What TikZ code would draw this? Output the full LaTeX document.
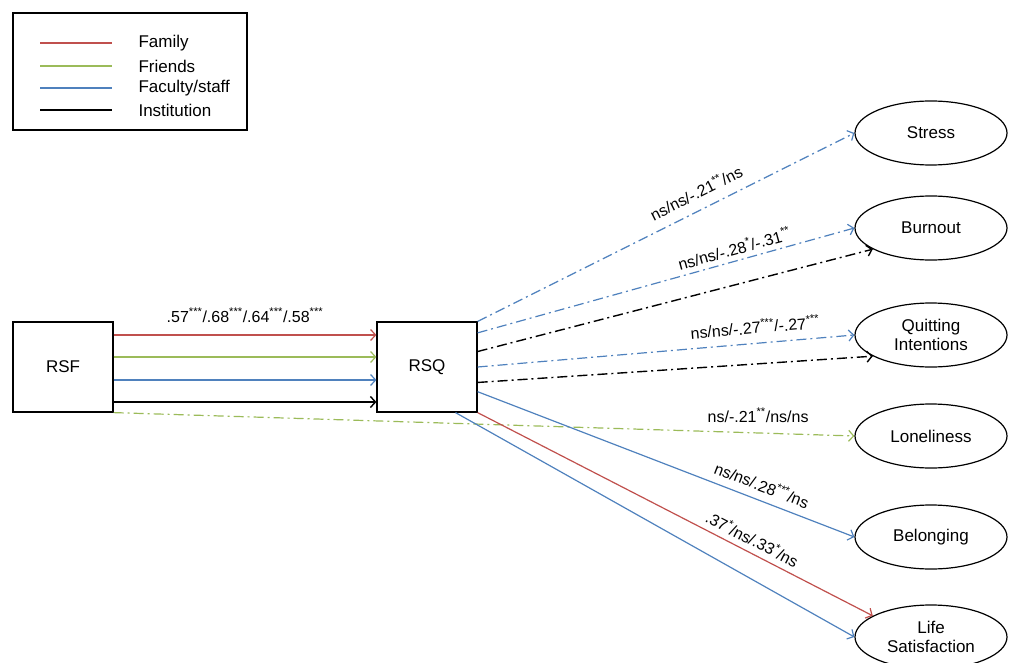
\documentclass[tikz,border=0pt]{standalone}
\usepackage{fontspec}
\setmainfont{Liberation Sans}
\usepackage{xcolor}
\usetikzlibrary{arrows.meta,positioning,shapes.geometric}

\definecolor{famred}{RGB}{192,80,77}
\definecolor{frigreen}{RGB}{155,187,89}
\definecolor{facblue}{RGB}{79,129,189}

\begin{document}
\begin{tikzpicture}[x=1pt,y=-1pt,
  every node/.style={font=\fontsize{17}{19}\selectfont},
  box/.style={draw,line width=1.2pt,minimum width=100pt,minimum height=90pt,inner sep=0pt},
  outc/.style={draw,ellipse,line width=1.2pt,minimum width=152pt,minimum height=64pt,inner sep=0pt,align=center},
  tip/.style={-{Straight Barb[length=5pt,width=11pt]}},
  dashdot/.style={dash pattern=on 10pt off 4pt on 2pt off 4pt},
  fam/.style={famred,line width=1.2pt},
  fri/.style={frigreen,line width=1.2pt},
  fac/.style={facblue,line width=1.2pt},
  ins/.style={black,line width=1.4pt},
  lbl/.style={text=black,font=\fontsize{16}{18}\selectfont,inner sep=1pt}]
  \useasboundingbox (0,0) rectangle (1011,663);

  % legend
  \draw[line width=1.2pt] (13,13) rectangle (247,130);
  \draw[fam] (40,43) -- ++(72,0);
  \draw[fri] (40,66) -- ++(72,0);
  \draw[fac] (40,88) -- ++(72,0);
  \draw[ins] (40,110) -- ++(72,0);
  \node[anchor=west] (legfam) at (135,43) {Family};
  \node[anchor=west] (legfri) at (135,66) {Friends};
  \node[anchor=west] (legfac) at (135,88) {Faculty/staff};
  \node[anchor=west] (legins) at (135,110) {Institution};

  % predictors
  \node[box] (rsf) at (63,367) {RSF};
  \node[box] (rsq) at (427,367) {RSQ};

  % outcomes
  \node[outc] (stress)  at (931,133) {Stress};
  \node[outc] (burnout) at (931,228) {Burnout};
  \node[outc] (quit)    at (931,335) {Quitting\\Intentions};
  \node[outc] (lonely)  at (931,436) {Loneliness};
  \node[outc] (belong)  at (931,537) {Belonging};
  \node[outc] (lifesat) at (931,637) {Life\\Satisfaction};

  % RSF -> RSQ
  \draw[fam,tip] ([yshift=32pt]rsf.east) -- ([yshift=32pt]rsq.west)
    node[midway,above=11pt,lbl] {.57\textsuperscript{***}/.68\textsuperscript{***}/.64\textsuperscript{***}/.58\textsuperscript{***}};
  \draw[fri,tip] ([yshift=10pt]rsf.east) -- ([yshift=10pt]rsq.west);
  \draw[fac,tip] ([yshift=-13pt]rsf.east) -- ([yshift=-13pt]rsq.west);
  \draw[ins,tip] ([yshift=-35pt]rsf.east) -- ([yshift=-35pt]rsq.west);

  % RSQ -> outcomes
  \draw[fac,dashdot,tip] (rsq.north east) -- (stress.west)
    node[pos=0.6,sloped,above=9pt,lbl] {ns/ns/-.21\textsuperscript{**}/ns};
  \draw[fac,dashdot,tip] (rsq.34) -- (burnout.west)
    node[pos=0.69,sloped,above=4pt,lbl] {ns/ns/-.28\textsuperscript{*}/-.31\textsuperscript{**}};
  \draw[ins,dashdot,tip] (rsq.17) -- (burnout.200);
  \draw[fac,dashdot,tip] (rsq.east) -- (quit.west)
    node[pos=0.74,sloped,above=8pt,lbl] {ns/ns/-.27\textsuperscript{***}/-.27\textsuperscript{***}};
  \draw[ins,dashdot,tip] (rsq.343) -- (quit.200);
  \draw[fri,dashdot,tip] (rsf.south east) -- (lonely.west)
    node[pos=0.87,above=9pt,lbl] {ns/-.21\textsuperscript{**}/ns/ns};
  \draw[fac,tip] (rsq.334) -- (belong.west)
    node[pos=0.74,sloped,above=7pt,lbl] {ns/ns/.28\textsuperscript{***}/ns};
  \draw[fam,tip] (rsq.south east) -- (lifesat.160)
    node[pos=0.68,sloped,above=5pt,lbl] {.37\textsuperscript{*}/ns/.33\textsuperscript{*}/ns};
  \draw[fac,tip] (rsq.302) -- (lifesat.west);
\end{tikzpicture}
\end{document}
